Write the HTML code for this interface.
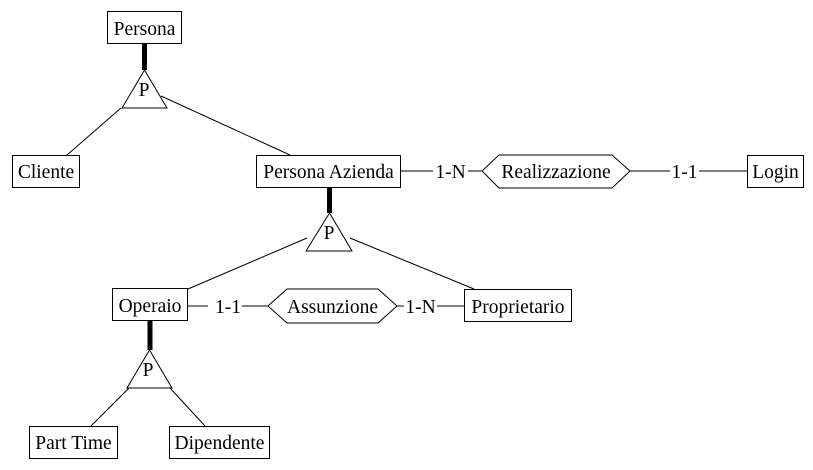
<!DOCTYPE html>
<html><head><meta charset="utf-8"><style>
html,body{margin:0;padding:0;background:#fff;}
svg{display:block;}
text{font-family:"Liberation Serif",serif;font-size:19.5px;fill:#000;}
</style></head><body>
<svg width="813" height="470" viewBox="0 0 813 470">
<g fill="#fff" stroke="#000" stroke-width="1">
<line x1="144.5" y1="43" x2="144.5" y2="70" stroke-width="5"/>
<line x1="67" y1="155" x2="121" y2="108"/>
<line x1="290" y1="155" x2="161" y2="96"/>
<line x1="401" y1="171" x2="433" y2="171"/>
<line x1="468" y1="171" x2="482" y2="171"/>
<line x1="630" y1="171" x2="670" y2="171"/>
<line x1="699" y1="171" x2="747" y2="171"/>
<line x1="329.5" y1="188" x2="329.5" y2="213" stroke-width="5"/>
<line x1="188" y1="289" x2="307" y2="238"/>
<line x1="350" y1="238" x2="474" y2="289"/>
<line x1="188" y1="306" x2="208" y2="306"/>
<line x1="242" y1="306" x2="268" y2="306"/>
<line x1="397" y1="306" x2="404" y2="306"/>
<line x1="437" y1="306" x2="464" y2="306"/>
<line x1="150" y1="320" x2="150" y2="350" stroke-width="5"/>
<line x1="91" y1="426" x2="129" y2="388"/>
<line x1="205" y1="426" x2="170" y2="388"/>
<polygon points="144.5,70 122,108 167,108"/>
<polygon points="329.5,213 306,251 352,251"/>
<polygon points="149.5,350 127,388 172,388"/>
<rect x="107.5" y="11.5" width="74" height="32"/>
<rect x="12.5" y="155.5" width="67" height="32"/>
<rect x="256.5" y="155.5" width="144" height="32"/>
<rect x="747.5" y="155.5" width="56" height="32"/>
<rect x="112.5" y="288.5" width="75" height="32"/>
<rect x="464.5" y="289.5" width="107" height="32"/>
<rect x="29.5" y="426.5" width="88" height="32"/>
<rect x="169.5" y="426.5" width="100" height="32"/>
<polygon points="482,171 499,155 612,155 630,171 612,188 499,188"/>
<polygon points="268,306 287,289 378,289 397,306 378,323 287,323"/>
</g>
<g text-anchor="middle">
<text x="144.5" y="35">Persona</text>
<text x="144" y="96">P</text>
<text x="46" y="178">Cliente</text>
<text x="328.5" y="178">Persona Azienda</text>
<text x="450.5" y="178">1-N</text>
<text x="556" y="178">Realizzazione</text>
<text x="684.5" y="178">1-1</text>
<text x="775.5" y="178">Login</text>
<text x="329" y="239">P</text>
<text x="150" y="312">Operaio</text>
<text x="228" y="313">1-1</text>
<text x="332.5" y="313">Assunzione</text>
<text x="420.5" y="313">1-N</text>
<text x="518" y="313">Proprietario</text>
<text x="148" y="376">P</text>
<text x="73.5" y="449">Part Time</text>
<text x="219.5" y="449">Dipendente</text>
</g>
</svg>
</body></html>
